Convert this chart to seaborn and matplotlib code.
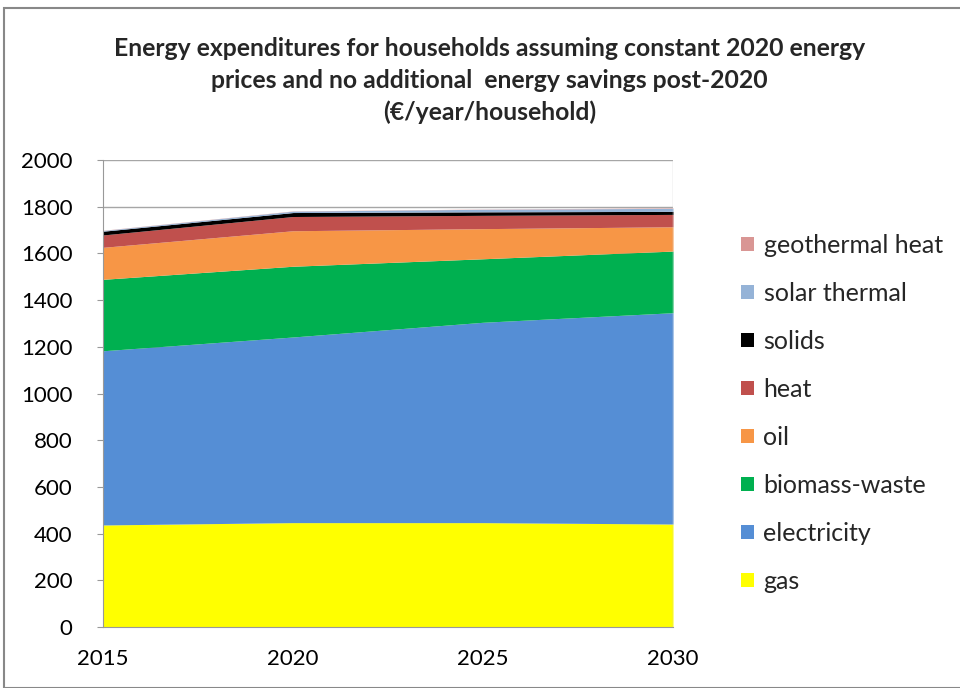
import matplotlib
matplotlib.use("Agg")
import matplotlib.pyplot as plt
import seaborn as sns
import pandas as pd
from matplotlib.patches import Patch, Rectangle

years = [2015, 2020, 2025, 2030]
carriers = ["gas", "electricity", "biomass-waste", "oil", "heat", "solids",
            "solar thermal", "geothermal heat"]

gas = [437, 447, 447, 441]
electricity = [746, 795, 858, 905]
biomass_waste = [306, 303, 272, 264]
oil = [137, 152, 129, 104]
heat = [53, 61, 57, 53]
solids = [16, 17, 15, 13]
solar_thermal = [3, 6, 11, 13]
geothermal_heat = [1, 1, 1, 2]

colors = ["#ffff00", "#558ed5", "#00b050", "#f79646", "#c0504d", "#000000",
          "#95b3d7", "#d99694"]

df = pd.DataFrame({
    "gas": gas,
    "electricity": electricity,
    "biomass-waste": biomass_waste,
    "oil": oil,
    "heat": heat,
    "solids": solids,
    "solar thermal": solar_thermal,
    "geothermal heat": geothermal_heat,
}, index=years)

sns.set_style("white")
plt.rcParams["font.family"] = ["Lato", "DejaVu Sans"]

fig = plt.figure(figsize=(9.6, 6.88), dpi=100)
ax = fig.add_axes([103 / 960, 1 - 627 / 688, 570 / 960, 467 / 688])

ax.stackplot(df.index, [df[c].values for c in carriers], colors=colors,
             linewidth=0)

ax.set_xlim(2015, 2030)
ax.set_ylim(0, 2000)
ax.set_xticks(years)
ax.set_yticks(range(0, 2001, 200))
ax.tick_params(axis="x", labelsize=16, colors="#000000", length=0, pad=16)
ax.tick_params(axis="y", labelsize=16, colors="#000000", length=4,
               color="#999999", direction="out", left=True, pad=18)
ax.grid(axis="y", color="#a6a6a6", linewidth=1)
ax.set_axisbelow(True)
for side in ["top", "right"]:
    ax.spines[side].set_visible(False)
ax.spines["left"].set_color("#999999")
ax.spines["bottom"].set_color("#999999")
ax.axvline(2030, color="#d0d0d0", linewidth=1)

title_lines = ["Energy expenditures for households assuming constant 2020 energy",
               "prices and no additional  energy savings post-2020",
               "(€/year/household)"]
for y_px, line in zip([48, 80, 112], title_lines):
    fig.text(0.51, 1 - y_px / 688, line, ha="center", va="center",
             fontsize=17.8, fontweight="bold")

handles = [Patch(facecolor=col, edgecolor="none", label=lab)
           for lab, col in zip(carriers, colors)][::-1]
fig.legend(handles=handles, loc="upper left", bbox_to_anchor=(741 / 960, 1 - 234 / 688),
           frameon=False, fontsize=18, handlelength=0.5, handleheight=0.5,
           handletextpad=0.4, labelspacing=1.0, borderaxespad=0, borderpad=0)

fig.patches.append(Rectangle((4 / 960, 0), 1.1, 1 - 8 / 688, transform=fig.transFigure,
                             fill=False, edgecolor="#888888", linewidth=1.5))

fig.savefig("out.png", dpi=100)
